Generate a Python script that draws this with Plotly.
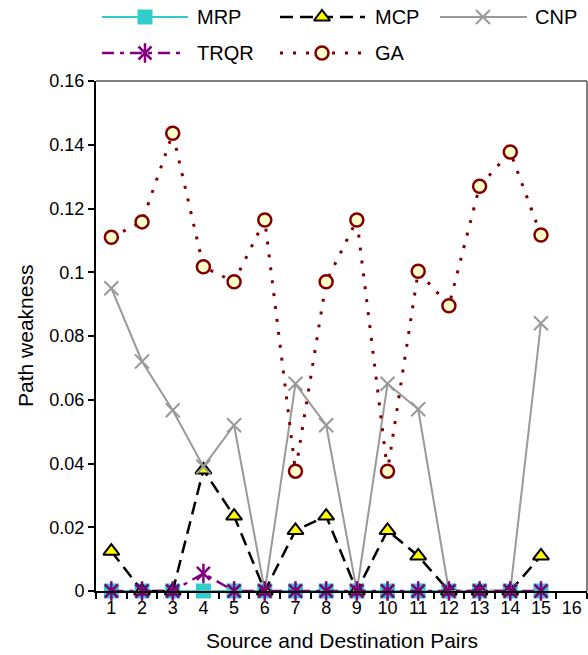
import plotly.graph_objects as go

pairs = [str(i) for i in range(1, 17)]
x_data = pairs[:15]

mrp = [0.0] * 15
mcp = [0.0125, 0, 0, 0.038, 0.0235, 0, 0.019, 0.0235, 0, 0.019, 0.011, 0, 0, 0, 0.011]
cnp = [0.095, 0.072, 0.0567, 0.039, 0.052, 0, 0.065, 0.052, 0, 0.065, 0.057, 0, 0, 0, 0.084]
trqr = [0, 0, 0, 0.0055, 0, 0, 0, 0, 0, 0, 0, 0, 0, 0, 0]
ga = [0.111, 0.1158, 0.1436, 0.1017, 0.097, 0.1164, 0.0376, 0.097, 0.1164, 0.0376, 0.1003, 0.0895, 0.127, 0.1377, 0.1117]

ytick_vals = [0, 0.02, 0.04, 0.06, 0.08, 0.1, 0.12, 0.14, 0.16]
ytick_text = ["0", "0.02", "0.04", "0.06", "0.08", "0.1", "0.12", "0.14", "0.16"]

FONT = "Liberation Sans, Arial, sans-serif"
PURPLE = "#800080"

styles = {
    "MRP": dict(line=dict(color="#33CCCC", width=2),
                marker=dict(symbol="square", size=15, color="#33CCCC", line=dict(width=0))),
    "MCP": dict(line=dict(color="black", width=2.5, dash="13px,7px"),
                marker=dict(symbol="triangle-up", size=14, color="#FFFF00", line=dict(color="black", width=2))),
    "CNP": dict(line=dict(color="#999999", width=2),
                marker=dict(symbol="x-thin-open", size=14, color="#999999", line=dict(color="#999999", width=2))),
    "TRQR": dict(line=dict(color=PURPLE, width=2.5, dash="12px,6px,4px,6px"),
                 marker=dict(symbol="x-thin-open", size=13, color=PURPLE, line=dict(color=PURPLE, width=2.5))),
    "GA": dict(line=dict(color="#800000", width=3, dash="3px,10px"),
               marker=dict(symbol="circle", size=13, color="#FFFFCC", line=dict(color="#800000", width=2.5))),
}
star_bar = dict(symbol="line-ns-open", size=14, color=PURPLE, line=dict(color=PURPLE, width=2.5))
series = [("MRP", mrp), ("MCP", mcp), ("CNP", cnp), ("TRQR", trqr), ("GA", ga)]

fig = go.Figure()
for name, vals in series:
    st = styles[name]
    fig.add_trace(go.Scatter(x=x_data, y=vals, name=name, mode="lines+markers",
                             line=st["line"], marker=st["marker"], showlegend=False,
                             cliponaxis=False))
    if name == "TRQR":
        fig.add_trace(go.Scatter(x=x_data, y=vals, mode="markers", showlegend=False,
                                 marker=star_bar, cliponaxis=False))

# manual legend (layout positions in legend-axis pixel units)
leg_pos = {
    "MRP": (102, 188, 145, 195, 17),
    "MCP": (280, 365, 322, 373, 17),
    "CNP": (440, 527, 483, 533, 17),
    "TRQR": (102, 182, 145, 195, 53),
    "GA": (280, 365, 322, 373, 53),
}
for name, _ in series:
    x0, x1, xm, xt, yy = leg_pos[name]
    st = styles[name]
    fig.add_trace(go.Scatter(x=[x0, x1], y=[yy, yy], mode="lines", line=st["line"],
                             xaxis="x3", yaxis="y3", showlegend=False, hoverinfo="skip"))
    fig.add_trace(go.Scatter(x=[xm], y=[yy], mode="markers", marker=st["marker"],
                             xaxis="x3", yaxis="y3", showlegend=False, hoverinfo="skip"))
    if name == "TRQR":
        fig.add_trace(go.Scatter(x=[xm], y=[yy], mode="markers", marker=star_bar,
                                 xaxis="x3", yaxis="y3", showlegend=False, hoverinfo="skip"))
    fig.add_annotation(x=xt, y=yy, xref="x3", yref="y3", text=name, showarrow=False,
                       xanchor="left", yanchor="middle", font=dict(size=20, color="black", family=FONT))

# axis titles
fig.add_annotation(text="Path weakness", xref="paper", yref="y domain", x=(25 - 96) / 491, y=0.5,
                   textangle=-90, showarrow=False, xanchor="center", yanchor="middle",
                   font=dict(size=21, color="black", family=FONT))
fig.add_annotation(text="Source and Destination Pairs", xref="paper", yref="y domain", x=0.5,
                   y=-(640 - 591) / 510, showarrow=False, xanchor="center", yanchor="middle",
                   font=dict(size=21, color="black", family=FONT))

top_frac = 510 / 591
fig.update_layout(
    width=588, height=655,
    margin=dict(l=96, r=1, t=0, b=64, autoexpand=False),
    paper_bgcolor="white", plot_bgcolor="white",
    font=dict(family=FONT, color="black"),
    showlegend=False,
    xaxis=dict(type="category", categoryorder="array", categoryarray=pairs,
               tickvals=pairs, range=[-0.5, 15.5], tickson="boundaries",
               ticks="outside", ticklen=6, tickwidth=1.5, tickcolor="black",
               showline=True, linecolor="black", linewidth=1.5, showgrid=False,
               tickfont=dict(size=18), anchor="y", automargin=False),
    yaxis=dict(domain=[0, top_frac], range=[0, 0.16], tickvals=ytick_vals, ticktext=ytick_text,
               ticks="outside", ticklen=6, tickwidth=1.5, tickcolor="black",
               showline=True, linecolor="black", linewidth=2, showgrid=False, zeroline=False,
               tickfont=dict(size=18), automargin=False),
    xaxis3=dict(domain=[0, 1], range=[96, 587], visible=False, anchor="y3", automargin=False),
    yaxis3=dict(domain=[top_frac, 1], range=[81, 0], visible=False, anchor="x3", automargin=False),
    shapes=[
        dict(type="line", xref="paper", yref="y domain", x0=0, x1=1, y0=1, y1=1,
             line=dict(color="#555555", width=1.5)),
        dict(type="line", xref="paper", yref="y domain", x0=1, x1=1, y0=0, y1=1,
             line=dict(color="#555555", width=1.5)),
    ],
)

fig.write_html("out.html")
